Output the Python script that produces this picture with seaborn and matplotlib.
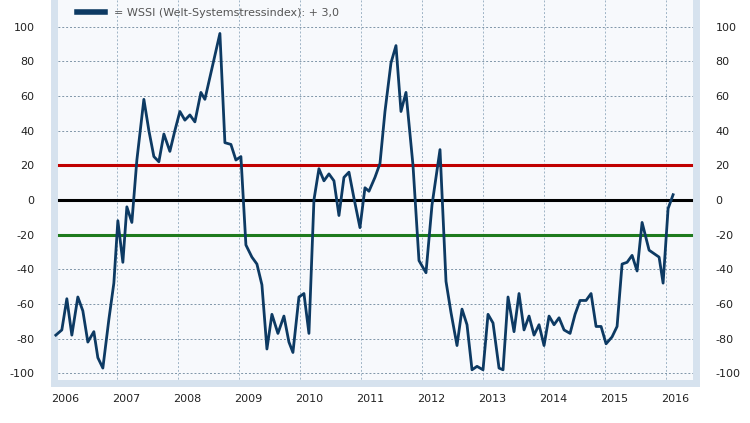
import numpy as np
import pandas as pd
import seaborn as sns
import matplotlib.pyplot as plt

# WSSI readings (time as fractional year, value as index points)
pixel_x = [57, 63, 68, 73, 79, 84, 89, 95, 99, 104, 110, 115, 119, 124, 128, 133, 138, 145, 150, 155,
           160, 165, 171, 176, 181, 186, 191, 196, 202, 206, 221, 226, 232, 237, 242, 247, 253, 258, 263, 268,
           273, 279, 285, 290, 294, 300, 305, 310, 315, 320, 325, 330, 335, 340, 345, 350, 355, 361, 366, 370,
           376, 381, 386, 392, 397, 402, 407, 414, 420, 427, 433, 441, 447, 452, 458, 463, 468, 473, 478, 484,
           489, 494, 500, 504, 509, 515, 520, 525, 530, 535, 540, 545, 550, 555, 560, 565, 571, 576, 581, 587,
           592, 597, 602, 607, 613, 618, 623, 628, 633, 638, 643, 650, 655, 660, 664, 669, 674]
wssi = [-78, -75, -57, -78, -56, -64, -82, -76, -91, -97, -69, -48, -12, -36, -4, -13, 23, 58, 40, 25,
        22, 38, 28, 40, 51, 46, 49, 45, 62, 58, 96, 33, 32, 23, 25, -26, -33, -37, -49, -86,
        -66, -77, -67, -82, -88, -56, -54, -77, 0, 18, 11, 15, 11, -9, 13, 16, 1, -16, 7, 5,
        13, 21, 51, 79, 89, 51, 62, 20, -35, -42, -3, 29, -47, -65, -84, -63, -72, -98, -96, -98,
        -66, -71, -97, -98, -56, -76, -54, -75, -67, -78, -72, -84, -67, -72, -68, -75, -77, -66, -58, -58,
        -54, -73, -73, -83, -79, -73, -37, -36, -32, -41, -13, -29, -31, -33, -48, -5, 3]
time = [2006 + (p - 57) / 61 for p in pixel_x]
years = list(range(2006, 2017))
y_ticks = list(range(-100, 101, 20))

df = pd.DataFrame({"time": time, "wssi": wssi})

plt.rcParams["font.family"] = ["Liberation Sans Narrow", "DejaVu Sans"]
fig = plt.figure(figsize=(7.5, 4.23), dpi=100)
ax = fig.add_axes([0.072, 0.095, 0.856, 0.905])
ax.set_facecolor("#f7f9fc")

ax.axhline(20, color="#c00000", lw=2.2, zorder=2)
ax.axhline(0, color="black", lw=2.2, zorder=2)
ax.axhline(-20, color="#1e7b1e", lw=2.2, zorder=2)

sns.lineplot(data=df, x="time", y="wssi", ax=ax, color="#0d3a63", lw=2, zorder=3,
             label="= WSSI (Welt-Systemstressindex): + 3,0")

ax.set_xlim(2005.97, 2016.49)
ax.set_ylim(-105.5, 115.3)
ax.set_xticks(years)
ax.set_xticklabels([])
ax.set_xticks([y + 0.15 for y in years], minor=True)
ax.set_xticklabels([str(y) for y in years], minor=True)
ax.set_yticks(y_ticks)
ax.set_yticklabels([str(v) for v in y_ticks])
ax.tick_params(which="both", length=0, labelsize=8, colors="#222222")
ax.tick_params(axis="y", pad=14, labelright=True)
ax.tick_params(axis="x", which="minor", pad=8)
ax.grid(True, which="major", color="#7f95a8", ls=(0, (2, 2)), lw=0.7)
ax.xaxis.grid(True, color="#9fb4c6", ls=(0, (2, 2)), lw=0.7)
ax.set_xlabel("")
ax.set_ylabel("")
for s in ax.spines.values():
    s.set_color("#d6e2ee")
    s.set_linewidth(5)
ax.spines["top"].set_visible(False)

leg = ax.legend(loc="upper left", frameon=False, fontsize=8, handlelength=2.5,
                bbox_to_anchor=(0.02, 1.005))
for h in leg.get_lines():
    h.set_linewidth(4)
for t in leg.get_texts():
    t.set_color("#555555")

fig.savefig("out.png", dpi=100)
